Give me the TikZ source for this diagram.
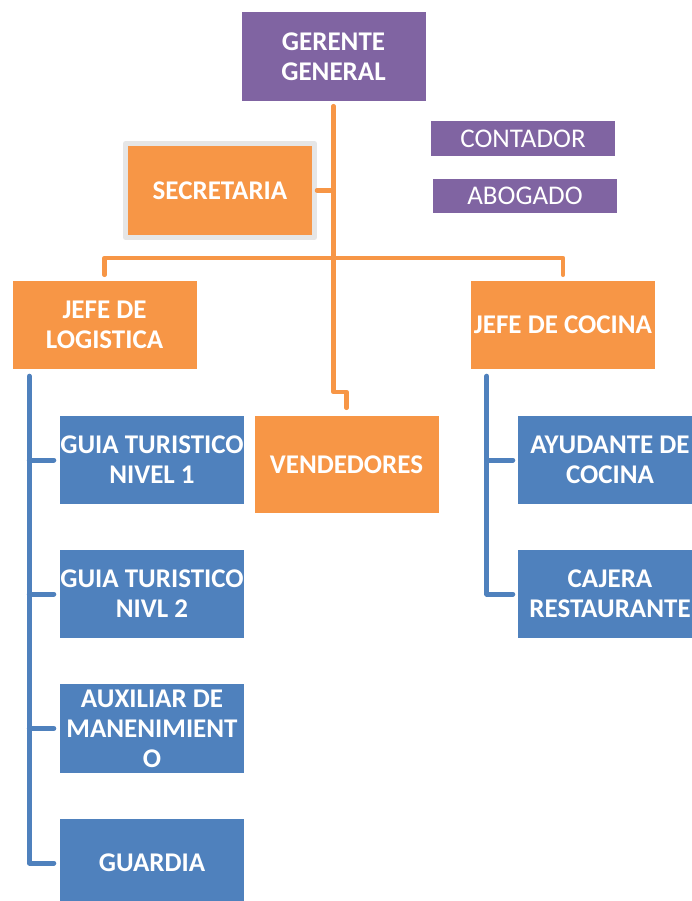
\documentclass[tikz,border=0pt]{standalone}
\usepackage{fontspec}
\setmainfont{Carlito}
\usepackage{tikz}
\definecolor{morado}{HTML}{8064A2}
\definecolor{naranja}{HTML}{F79646}
\definecolor{azul}{HTML}{4F81BD}
\definecolor{marco}{HTML}{E6E6E6}
\begin{document}
\begin{tikzpicture}[line cap=round,line join=round,x=1pt,y=-1pt,
  caja/.style={inner sep=0pt,align=center,text=white,font=\fontsize{27}{30}\selectfont\bfseries,minimum width=184pt,minimum height=88pt},
  jefe/.style={caja,fill=morado},
  staff/.style={caja,fill=morado,font=\fontsize{27}{30}\selectfont,minimum height=35pt},
  area/.style={caja,fill=naranja},
  puesto/.style={caja,fill=azul},
  lineanar/.style={draw=naranja,line width=4.5pt},
  lineaazu/.style={draw=azul,line width=5pt}]
\useasboundingbox (0,0) rectangle (692,901);
% cabeza
\node[jefe,minimum height=89pt] (ger) at (333.5,56.5) {GERENTE\\GENERAL};
\node[staff] (cont) at (523,138.5) {CONTADOR};
\node[staff,minimum height=34pt] (abog) at (525,196) {ABOGADO};
\node[area,draw=marco,line width=5pt,minimum width=189pt,minimum height=94pt] (sec) at (220,190.5) {SECRETARIA};
% areas
\node[area] (jlog) at (104.5,325) {JEFE DE\\LOGISTICA};
\node[area] (jcoc) at (563,325) {JEFE DE COCINA};
\node[area,minimum height=97pt] (vend) at (346.5,464.5) {VENDEDORES};
% logistica
\node[puesto] (guia1) at (152,460) {GUIA TURISTICO\\NIVEL 1};
\node[puesto] (guia2) at (152,594) {GUIA TURISTICO\\NIVL 2};
\node[puesto,minimum height=89pt] (aux) at (152,728.5) {AUXILIAR DE\\MANENIMIENT\\O};
\node[puesto] (guard) at (152,863) {GUARDIA};
% cocina
\node[puesto] (ayud) at (610,460) {AYUDANTE DE\\COCINA};
\node[puesto] (caj) at (610,594) {CAJERA\\RESTAURANTE};
% lineas naranja
\draw[lineanar] ([yshift=-5pt]ger.south) -- (ger.south |- 0,392) -| ([yshift=8pt]vend.north);
\draw[lineanar] (sec.east) -- (sec.east -| ger.south);
\draw[lineanar] ([yshift=6pt]jlog.north) |- (ger.south |- 0,258) -| ([yshift=6pt]jcoc.north);
% lineas azul
\coordinate (lgtop) at ([xshift=17pt,yshift=-7pt]jlog.south west);
\coordinate (cctop) at ([xshift=16pt,yshift=-7pt]jcoc.south west);
\draw[lineaazu] (lgtop) |- ([xshift=-6pt]guard.west);
\foreach \n in {guia1,guia2,aux}
\draw[lineaazu] ([xshift=-6pt]\n.west) -- (\n.west -| lgtop);
\draw[lineaazu] (cctop) |- ([xshift=-5pt]caj.west);
\draw[lineaazu] ([xshift=-5pt]ayud.west) -- (ayud.west -| cctop);
\end{tikzpicture}
\end{document}
